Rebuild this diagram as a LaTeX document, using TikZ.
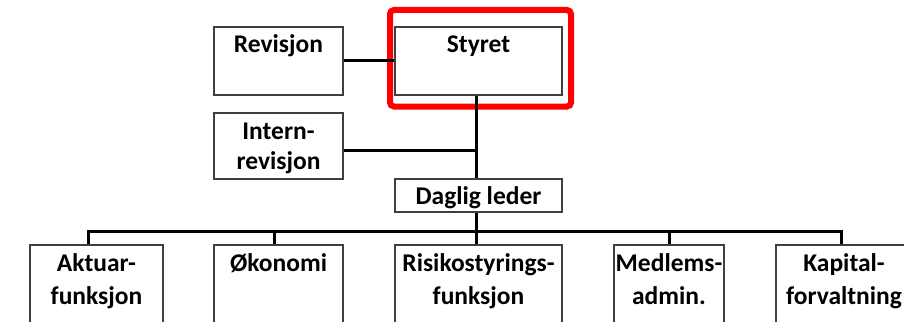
\documentclass[tikz,border=0pt]{standalone}
\usepackage{fontspec}
\setmainfont{Carlito}
\begin{document}
\begin{tikzpicture}[x=1pt,y=-1pt,
  box/.style={draw=black!75, line width=1.6pt, fill=white, inner sep=0pt},
  lbl/.style={font=\fontsize{25.5}{30}\selectfont\bfseries, inner sep=0pt, anchor=base},
  conn/.style={draw=black, line width=3pt},
  hl/.style={draw=red, line width=6pt, rounded corners=4pt}]
\useasboundingbox (0,0) rectangle (904,321);
\clip (0,0) rectangle (904,321);
\fill[white] (0,0) rectangle (904,321);
% boxes
\node[box, minimum width=129pt, minimum height=68pt] (rev) at (278.5,61) {};
\node[box, minimum width=167pt, minimum height=68pt] (sty) at (478.5,61) {};
\node[box, minimum width=129pt, minimum height=66pt] (int) at (278.5,146) {};
\node[box, minimum width=167pt, minimum height=33pt] (dl) at (478.5,195.5) {};
\node[box, minimum width=133pt, minimum height=95pt] (akt) at (96.5,292.5) {};
\node[box, minimum width=129pt, minimum height=95pt] (oko) at (278.5,292.5) {};
\node[box, minimum width=167pt, minimum height=95pt] (ris) at (478.5,292.5) {};
\node[box, minimum width=110pt, minimum height=95pt] (med) at (669,292.5) {};
\node[box, minimum width=136pt, minimum height=95pt] (kap) at (844,292.5) {};
% highlight
\draw[hl] (390,10) rectangle (571,106.5);
% labels
\node[lbl] (trev) at ([yshift=-26pt]rev.north) {Revisjon};
\node[lbl] (tsty) at ([yshift=-26pt]sty.north) {Styret};
\node[lbl] (tint1) at ([yshift=-27pt]int.north) {Intern-};
\node[lbl] (tint2) at ([yshift=-57pt]int.north) {revisjon};
\node[lbl] (tdl) at ([yshift=-26pt]dl.north) {Daglig leder};
\node[lbl] (takt1) at ([yshift=-27pt]akt.north) {Aktuar-};
\node[lbl] (takt2) at ([yshift=-60pt]akt.north) {funksjon};
\node[lbl] (toko) at ([yshift=-27pt]oko.north) {Økonomi};
\node[lbl] (tris1) at ([yshift=-27pt]ris.north) {Risikostyrings-};
\node[lbl] (tris2) at ([yshift=-60pt]ris.north) {funksjon};
\node[lbl] (tmed1) at ([yshift=-27pt]med.north) {Medlems-};
\node[lbl] (tmed2) at ([yshift=-60pt]med.north) {admin.};
\node[lbl] (tkap1) at ([yshift=-27pt]kap.north) {Kapital-};
\node[lbl] (tkap2) at ([yshift=-60pt]kap.north) {forvaltning};
% connectors
\coordinate (trunk) at (476,0);
\coordinate (bus) at (476,231);
\draw[conn] (rev.east) -- (sty.west);
\draw[conn] ([yshift=-4pt]int.east) -- ([yshift=-4pt]int.east -| trunk);
\draw[conn] (sty.south -| trunk) -- (dl.north -| trunk);
\draw[conn] (dl.south -| trunk) -- (ris.north -| trunk);
\draw[conn] ([xshift=-8.5pt]akt.north) |- (bus) -| ([xshift=-3pt]kap.north);
\draw[conn] ([xshift=-4.5pt]oko.north) -- ([xshift=-4.5pt]oko.north |- bus);
\draw[conn] (med.north) -- (med.north |- bus);
\end{tikzpicture}
\end{document}
